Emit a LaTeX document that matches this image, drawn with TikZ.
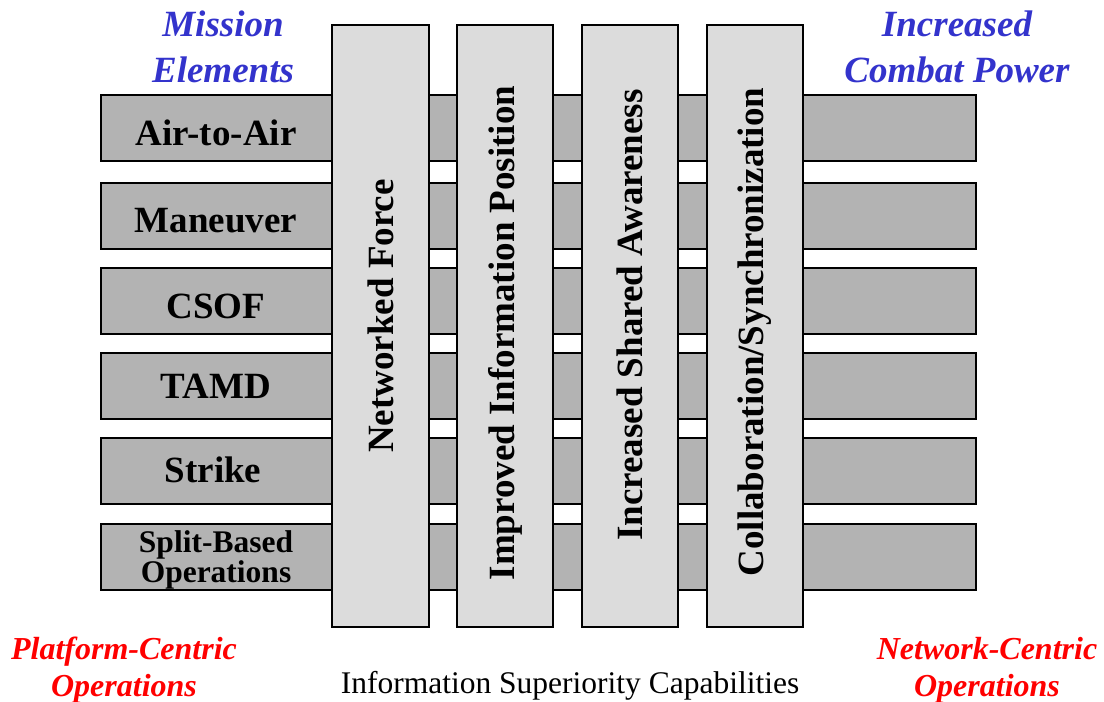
\documentclass[tikz,border=0pt]{standalone}
\usepackage{fontspec}
\setmainfont{Liberation Serif}
\definecolor{hbar}{HTML}{B3B3B3}
\definecolor{vbar}{HTML}{DCDCDC}
\definecolor{mblue}{HTML}{3333CC}
\definecolor{mred}{HTML}{FF0000}
\begin{document}
\begin{tikzpicture}[x=1pt,y=-1pt,
  hbox/.style={draw=black,line width=1.6pt,fill=hbar},
  vbox/.style={draw=black,line width=1.6pt,fill=vbar},
  hlabel/.style={font=\fontsize{37}{40}\selectfont\bfseries,anchor=center},
  vlabel/.style={font=\fontsize{37}{40}\selectfont\bfseries,rotate=90,anchor=center},
  smlabel/.style={font=\fontsize{31.5}{30}\selectfont\bfseries,align=center,anchor=center},
  bluelab/.style={font=\fontsize{37}{46}\selectfont\bfseries\itshape,text=mblue,align=center},
  redlab/.style={font=\fontsize{32}{37}\selectfont\bfseries\itshape,text=mred,align=center}]
\useasboundingbox (0,0) rectangle (1104,702);
% horizontal bars
\foreach \t in {95,183,268,353,438,524}{
  \draw[hbox] (101,\t) rectangle (976,\t+66);
}
% vertical bars
\draw[vbox] (332,25) rectangle (429,627);
\draw[vbox] (457,25) rectangle (553,627);
\draw[vbox] (582,25) rectangle (678,627);
\draw[vbox] (707,25) rectangle (803,627);
% horizontal labels
\node[hlabel] (a2a) at (216,133) {Air-to-Air};
\node[hlabel] (man) at (216,221) {Maneuver};
\node[hlabel] (csof) at (216,306) {CSOF};
\node[hlabel] (tamd) at (216,386) {TAMD};
\node[hlabel] (strike) at (213,470) {Strike};
\node[smlabel] (split) at (216,560) {Split-Based\\Operations};
% vertical labels
\node[vlabel] (nf) at (381,316) {Networked Force};
\node[vlabel] (iip) at (505,333) {Improved Information Position};
\node[vlabel] (isa) at (630,315) {Increased Shared Awareness};
\node[vlabel] (cs) at (755,332) {Collaboration/Synchronization};
% corner labels
\node[bluelab] (me) at (223,47) {Mission\\Elements};
\node[bluelab] (icp) at (957,47) {Increased\\Combat Power};
\node[redlab] (pco) at (124,670) {Platform-Centric\\Operations};
\node[redlab] (nco) at (987,670) {Network-Centric\\Operations};
\node[font=\fontsize{31.5}{36}\selectfont,anchor=base] (isc) at (570,693) {Information Superiority Capabilities};
\end{tikzpicture}
\end{document}
